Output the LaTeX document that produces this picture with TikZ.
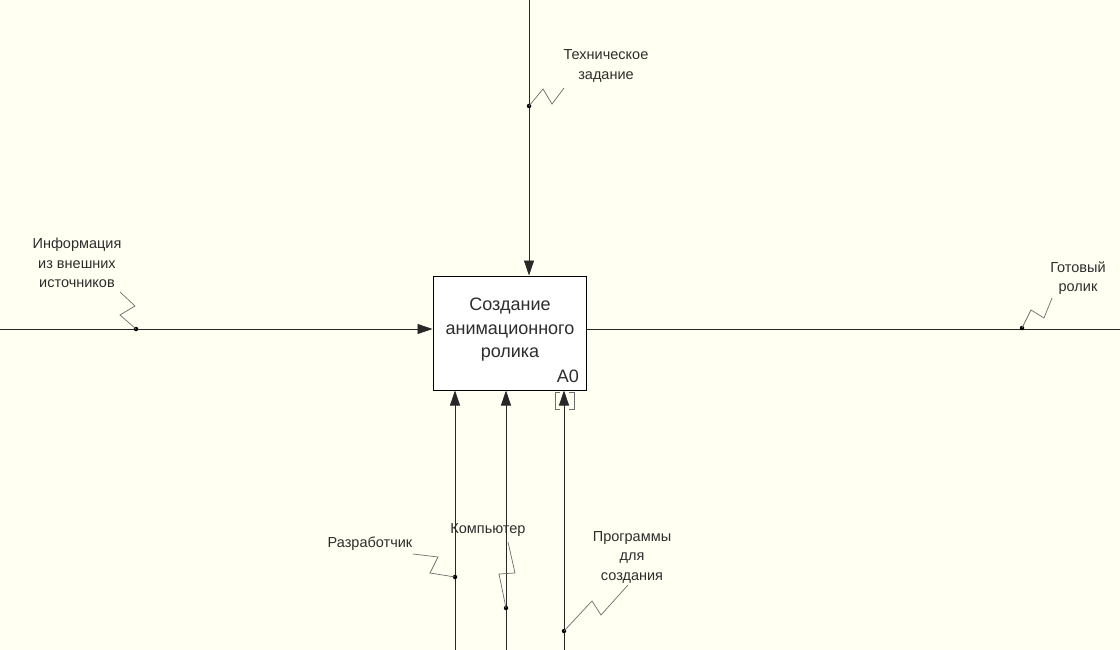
\documentclass[tikz,border=0pt]{standalone}
\usepackage{fontspec}
\setmainfont{Liberation Sans}
\usetikzlibrary{arrows.meta}
\definecolor{bg}{RGB}{255,255,242}
\definecolor{linec}{RGB}{40,40,40}
\definecolor{squigc}{RGB}{110,110,110}
\definecolor{txtc}{RGB}{45,45,45}
\begin{document}
\begin{tikzpicture}[x=1pt,y=-1pt,
  arrowline/.style={draw=linec, line width=0.8pt, -{Triangle[length=15pt,width=10pt]}},
  plainline/.style={draw=linec, line width=0.8pt},
  squig/.style={draw=squigc, line width=0.7pt},
  dotc/.style={circle, fill=black, inner sep=0pt, minimum size=4.5pt},
  lbl/.style={font=\fontsize{14.5}{19.5}\selectfont, align=center, text=txtc, inner sep=0pt},
  boxst/.style={draw=black, fill=white, line width=1pt, minimum width=153pt, minimum height=114pt, inner sep=0pt},
  brk/.style={draw=squigc, line width=0.8pt}
]
\fill[bg] (0,0) rectangle (1120,650);
\useasboundingbox (0,0) rectangle (1120,650);

% main box
\node[boxst] (box) at (509.5,333) {};
\node[font=\fontsize{18}{23.5}\selectfont, align=center, text=txtc, inner sep=0pt] (boxtext) at (510,330) {Создание\\анимационного\\ролика};
\node[font=\fontsize{18}{18}\selectfont, anchor=south east, inner sep=0pt, text=txtc] (num) at (579,383) {A0};

% control (top)
\coordinate (tin) at (529,0);
\draw[arrowline] (tin) -- (box.north -| tin);
\node[dotc] (d1) at (529,106) {};
\draw[squig] (d1.center) -- (543,89) -- (552,104) -- (564,88);
\node[lbl] (l1) at (606,66) {Техническое\\задание};

% input (left)
\coordinate (lin) at (0,329);
\draw[arrowline] (lin) -- (lin -| box.west);
\node[dotc] (d2) at (136,329) {};
\draw[squig] (d2.center) -- (120,315) -- (135,306) -- (120,292);
\node[lbl] (l2) at (77,263) {Информация\\из внешних\\источников};

% output (right)
\coordinate (rout) at (1120,329);
\draw[plainline] (rout -| box.east) -- (rout);
\node[dotc] (d3) at (1022,328) {};
\draw[squig] (d3.center) -- (1031,310) -- (1044,318) -- (1052,298);
\node[lbl] (l3) at (1078,278) {Готовый\\ролик};

% mechanisms (bottom)
\coordinate (m1) at (455,650);
\coordinate (m2) at (506,650);
\coordinate (m3) at (564,650);
\draw[arrowline] (m1) -- (box.south -| m1);
\draw[arrowline] (m2) -- (box.south -| m2);
\draw[arrowline] (m3) -- (box.south -| m3);

\node[dotc] (d4) at (455,577) {};
\draw[squig] (d4.center) -- (430,573) -- (438,557) -- (413,554);
\node[lbl] (l4) at (370,544) {Разработчик};

\node[dotc] (d5) at (506,608) {};
\draw[squig] (d5.center) -- (499,574) -- (515,573) -- (508,542);
\node[lbl] (l5) at (488,530) {Компьютер};

\node[dotc] (d6) at (564,631) {};
\draw[squig] (d6.center) -- (592,601) -- (601,615) -- (628,585);
\node[lbl] (l6) at (632,557) {Программы\\для\\создания};

% tunnel bracket
\draw[brk] (560,392) -- (555,392) -- (555,409) -- (560,409);
\draw[brk] (569,392) -- (574,392) -- (574,409) -- (569,409);
\end{tikzpicture}
\end{document}
